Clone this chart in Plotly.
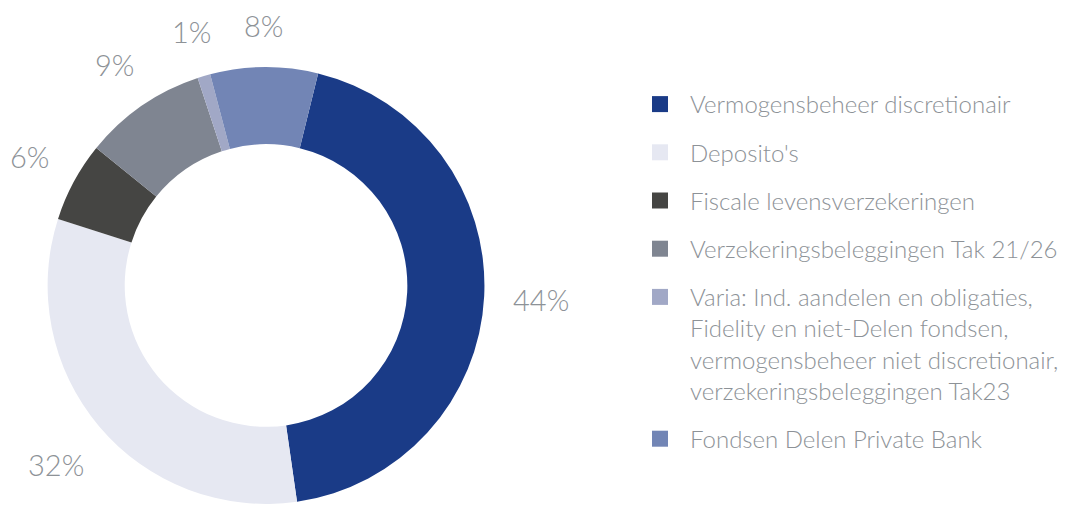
import math
import plotly.graph_objects as go

categories = [
    "Vermogensbeheer discretionair",
    "Deposito's",
    "Fiscale levensverzekeringen",
    "Verzekeringsbeleggingen Tak 21/26",
    "Varia: Ind. aandelen en obligaties,<br>Fidelity en niet-Delen fondsen,<br>vermogensbeheer niet discretionair,<br>verzekeringsbeleggingen Tak23",
    "Fondsen Delen Private Bank",
]
values = [43.9, 32.2, 5.9, 9.1, 0.95, 7.95]
pct_labels = ["44%", "32%", "6%", "9%", "1%", "8%"]
colors = ["#1a3b87", "#e6e8f2", "#454543", "#7f8591", "#a1a8c6", "#7285b5"]

OFF = 8  # default page body margin
W, H = 1072 - 2 * OFF, 523 - 2 * OFF
FONT = "Lato Light, Lato"
TXT = "#8d9297"
ROT = 13.8


def px_x(x):
    return (x - OFF) / W


def px_y(y):
    return 1 - (y - OFF) / H


dom_x = [px_x(48), px_x(489)]
dom_y = [px_y(506), px_y(65)]

fig = go.Figure()
fig.add_trace(go.Pie(
    labels=categories, values=values, sort=False, direction="clockwise",
    rotation=ROT, hole=0.647, marker=dict(colors=colors, line=dict(width=0)),
    textinfo="none", hoverinfo="label+percent", showlegend=False,
    domain=dict(x=dom_x, y=dom_y),
))

for lab, col in zip(categories, colors):
    fig.add_trace(go.Scatter(
        x=[None], y=[None], mode="markers", name=lab, legendgroup=lab,
        marker=dict(symbol="square", size=18, color=col), showlegend=True,
    ))

# percent labels placed outside the ring at each slice's mid-angle
cx = (48 + 489) / 2
cy = (65 + 506) / 2
R_out = (489 - 48) / 2
total = sum(values)
fs = 29
annotations = []
cum = 0.0
for v, t in zip(values, pct_labels):
    mid = ROT + (cum + v / 2) / total * 360
    cum += v
    a = math.radians(mid)
    w = 0.66 * fs * len(t)
    h = 0.8 * fs
    r = R_out + 28 + 0.5 * (w * abs(math.sin(a)) + h * abs(math.cos(a)))
    annotations.append(dict(
        x=px_x(cx + r * math.sin(a)), y=px_y(cy - r * math.cos(a)),
        xref="paper", yref="paper", text=t,
        showarrow=False, xanchor="center", yanchor="middle",
        font=dict(family=FONT, size=fs, color=TXT),
    ))

fig.update_layout(
    width=W, height=H, margin=dict(l=0, r=0, t=0, b=0),
    paper_bgcolor="white", plot_bgcolor="white",
    xaxis=dict(visible=False), yaxis=dict(visible=False),
    annotations=annotations,
    legend=dict(
        x=px_x(636), y=px_y(82), xanchor="left", yanchor="top",
        font=dict(family=FONT, size=24, color=TXT),
        traceorder="grouped", tracegroupgap=14, valign="top",
        itemwidth=50, bgcolor="rgba(0,0,0,0)",
    ),
    hovermode=False,
)

fig.write_html("out.html")
